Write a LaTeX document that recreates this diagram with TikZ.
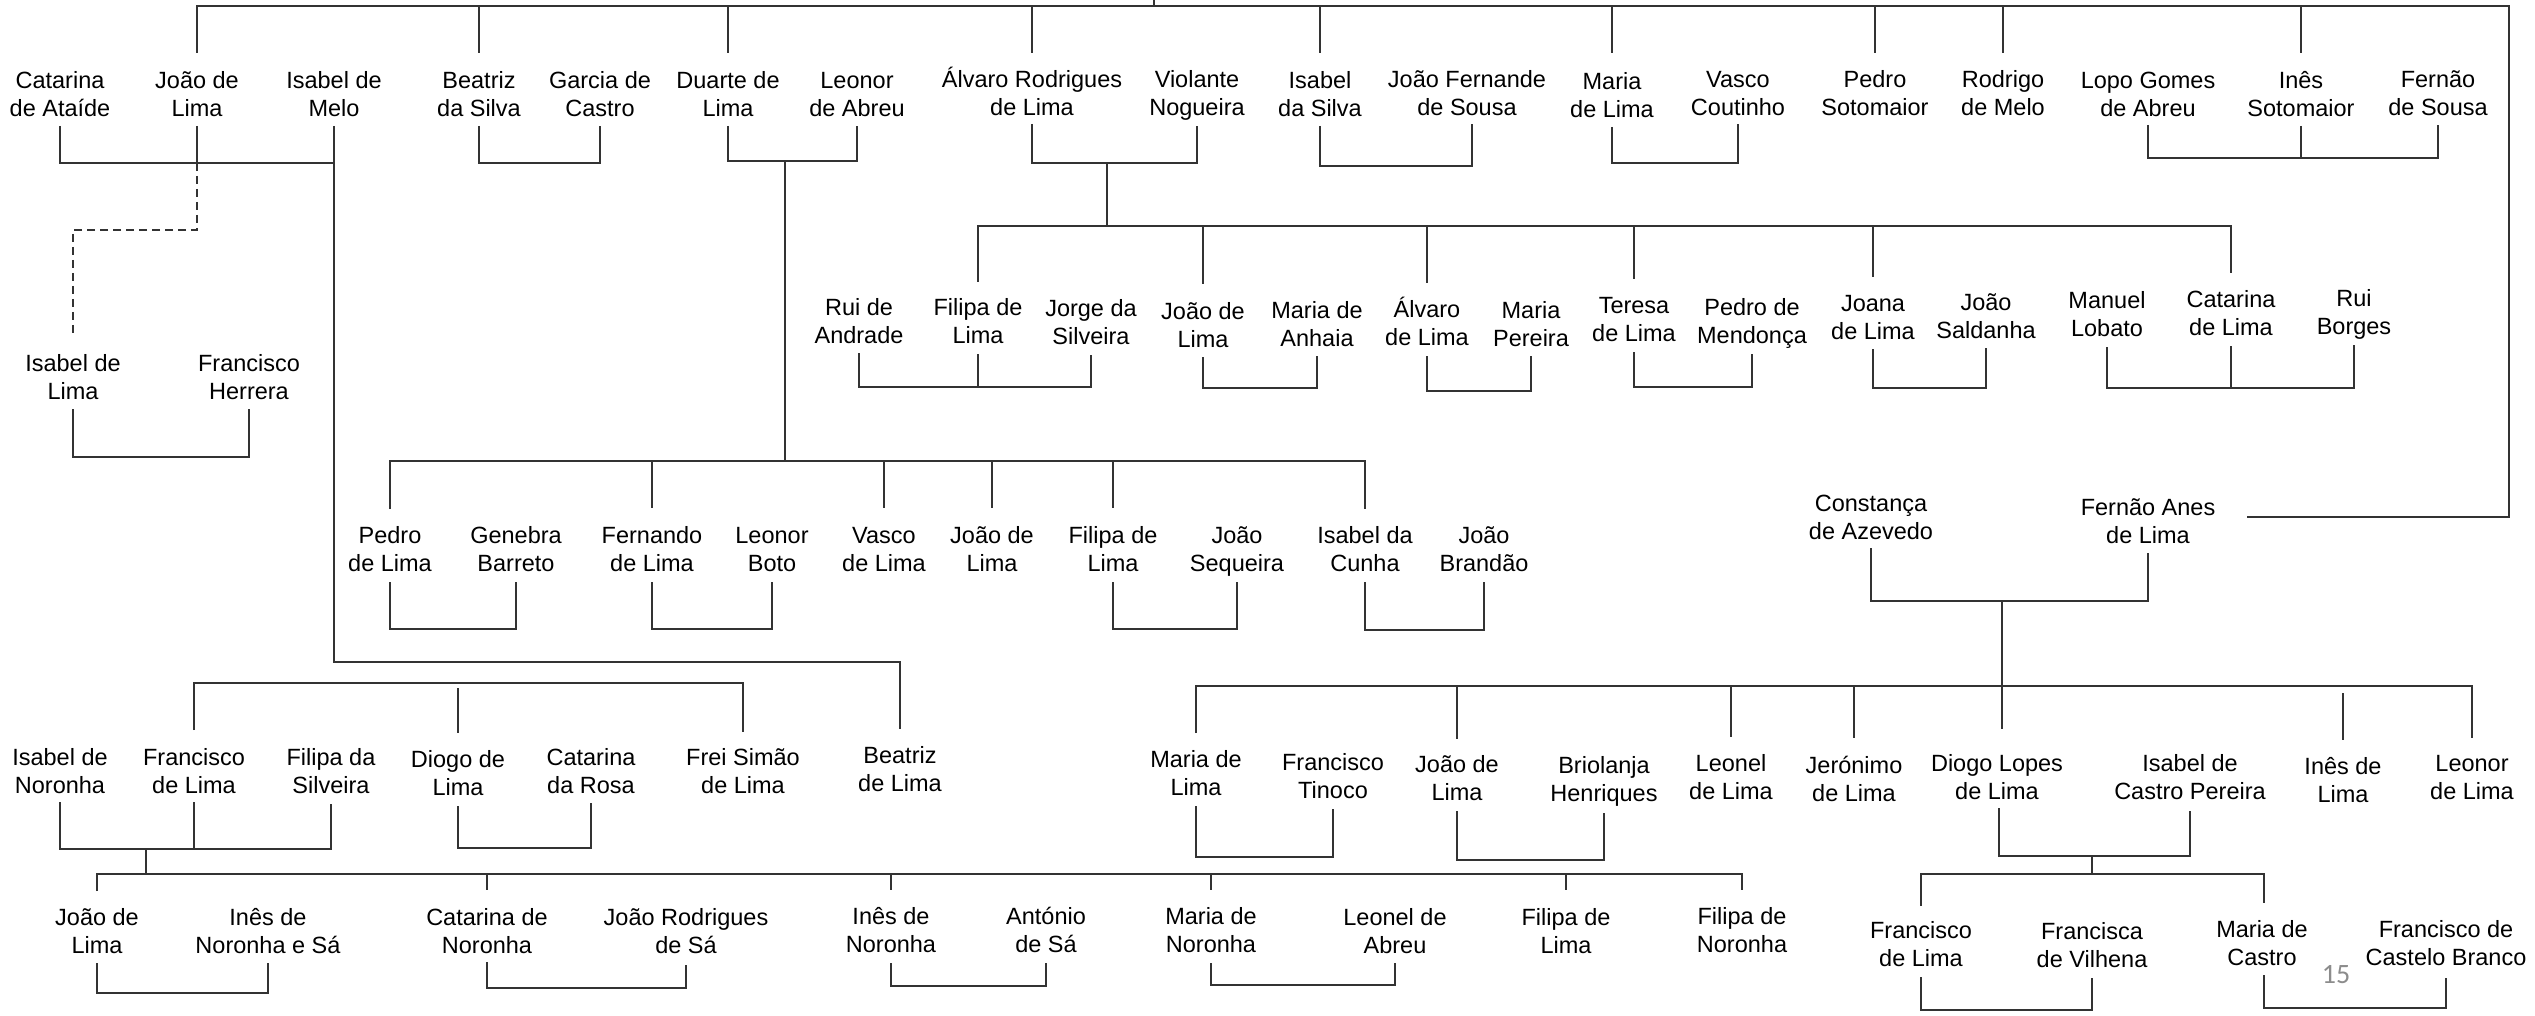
\documentclass[tikz,border=0pt]{standalone}
\usepackage{fontspec}
\setmainfont{Liberation Sans}
\newfontfamily\pgnumfont{Carlito}
\newcommand\pstr{\rule[-7pt]{0pt}{28pt}}
\newcommand\nm[2]{\pstr #1\\\pstr #2}
\definecolor{pgnumgray}{RGB}{140,140,140}
\begin{document}
\begin{tikzpicture}[x=1pt,y=-1pt,
  person/.style={align=center,inner sep=0pt,yshift=-1.5pt,font=\fontsize{23.5pt}{28.5pt}\selectfont},
  conn/.style={draw=black!80,line width=1.5pt},
  dconn/.style={conn,dash pattern=on 8pt off 5pt},
  pagenum/.style={inner sep=0pt,text=pgnumgray,font=\pgnumfont\fontsize{28pt}{32pt}\selectfont}]
\useasboundingbox (0,0) rectangle (2535,1016);
% ---------- row 1
\node[person] (catA) at (60,94) {\nm{Catarina}{de Ataíde}};
\node[person] (joaoL1) at (197,94) {\nm{João de}{Lima}};
\node[person] (isabM) at (334,94) {\nm{Isabel de}{Melo}};
\node[person] (beatS) at (479,94) {\nm{Beatriz}{da Silva}};
\node[person] (garC) at (600,94) {\nm{Garcia de}{Castro}};
\node[person] (duarte) at (728,94) {\nm{Duarte de}{Lima}};
\node[person] (leonA) at (857,94) {\nm{Leonor}{de Abreu}};
\node[person] (alvR) at (1032,93) {\nm{Álvaro Rodrigues}{de Lima}};
\node[person] (violN) at (1197,93) {\nm{Violante}{Nogueira}};
\node[person] (isabS) at (1320,94) {\nm{Isabel}{da Silva}};
\node[person] (joaoFS) at (1467,93) {\nm{João Fernande}{de Sousa}};
\node[person] (mariaL) at (1612,95) {\nm{Maria}{de Lima}};
\node[person] (vascoC) at (1738,93) {\nm{Vasco}{Coutinho}};
\node[person] (pedroS) at (1875,93) {\nm{Pedro}{Sotomaior}};
\node[person] (rodM) at (2003,93) {\nm{Rodrigo}{de Melo}};
\node[person] (lopoG) at (2148,94) {\nm{Lopo Gomes}{de Abreu}};
\node[person] (inesS) at (2301,94) {\nm{Inês}{Sotomaior}};
\node[person] (fernS) at (2438,93) {\nm{Fernão}{de Sousa}};
% ---------- left
\node[person] (isabL) at (73,377) {\nm{Isabel de}{Lima}};
\node[person] (franH) at (249,377) {\nm{Francisco}{Herrera}};
% ---------- row 2
\node[person] (ruiA) at (859,321) {\nm{Rui de}{Andrade}};
\node[person] (filL1) at (978,321) {\nm{Filipa de}{Lima}};
\node[person] (jorgeS) at (1091,322) {\nm{Jorge da}{Silveira}};
\node[person] (joaoL2) at (1203,325) {\nm{João de}{Lima}};
\node[person] (mariaA) at (1317,324) {\nm{Maria de}{Anhaia}};
\node[person] (alvL) at (1427,323) {\nm{Álvaro}{de Lima}};
\node[person] (mariaP) at (1531,324) {\nm{Maria}{Pereira}};
\node[person] (teresaL) at (1634,319) {\nm{Teresa}{de Lima}};
\node[person] (pedroM) at (1752,321) {\nm{Pedro de}{Mendonça}};
\node[person] (joanaL) at (1873,317) {\nm{Joana}{de Lima}};
\node[person] (joaoSal) at (1986,316) {\nm{João}{Saldanha}};
\node[person] (manuelL) at (2107,314) {\nm{Manuel}{Lobato}};
\node[person] (catL) at (2231,313) {\nm{Catarina}{de Lima}};
\node[person] (ruiB) at (2354,312) {\nm{Rui}{Borges}};
% ---------- row 3
\node[person] (pedroL) at (390,549) {\nm{Pedro}{de Lima}};
\node[person] (genB) at (516,549) {\nm{Genebra}{Barreto}};
\node[person] (fernL) at (652,549) {\nm{Fernando}{de Lima}};
\node[person] (leonB) at (772,549) {\nm{Leonor}{Boto}};
\node[person] (vascoL) at (884,549) {\nm{Vasco}{de Lima}};
\node[person] (joaoL3) at (992,549) {\nm{João de}{Lima}};
\node[person] (filL2) at (1113,549) {\nm{Filipa de}{Lima}};
\node[person] (joaoSeq) at (1237,549) {\nm{João}{Sequeira}};
\node[person] (isabC) at (1365,549) {\nm{Isabel da}{Cunha}};
\node[person] (joaoB) at (1484,549) {\nm{João}{Brandão}};
\node[person] (constA) at (1871,517) {\nm{Constança}{de Azevedo}};
\node[person] (fernAL) at (2148,521) {\nm{Fernão Anes}{de Lima}};
% ---------- row 4
\node[person] (isabN) at (60,771) {\nm{Isabel de}{Noronha}};
\node[person] (franL) at (194,771) {\nm{Francisco}{de Lima}};
\node[person] (filS) at (331,771) {\nm{Filipa da}{Silveira}};
\node[person] (diogoL) at (458,773) {\nm{Diogo de}{Lima}};
\node[person] (catR) at (591,771) {\nm{Catarina}{da Rosa}};
\node[person] (freiS) at (743,771) {\nm{Frei Simão}{de Lima}};
\node[person] (beatL) at (900,769) {\nm{Beatriz}{de Lima}};
\node[person] (mariaL2) at (1196,773) {\nm{Maria de}{Lima}};
\node[person] (franT) at (1333,776) {\nm{Francisco}{Tinoco}};
\node[person] (joaoL4) at (1457,778) {\nm{João de}{Lima}};
\node[person] (briH) at (1604,779) {\nm{Briolanja}{Henriques}};
\node[person] (leonelL) at (1731,777) {\nm{Leonel}{de Lima}};
\node[person] (jeroL) at (1854,779) {\nm{Jerónimo}{de Lima}};
\node[person] (diogoLL) at (1997,777) {\nm{Diogo Lopes}{de Lima}};
\node[person] (isabCP) at (2190,777) {\nm{Isabel de}{Castro Pereira}};
\node[person] (inesL) at (2343,780) {\nm{Inês de}{Lima}};
\node[person] (leonorL) at (2472,777) {\nm{Leonor}{de Lima}};
% ---------- row 5
\node[person] (joaoL5) at (97,931) {\nm{João de}{Lima}};
\node[person] (inesNS) at (268,931) {\nm{Inês de}{Noronha e Sá}};
\node[person] (catN) at (487,931) {\nm{Catarina de}{Noronha}};
\node[person] (joaoRS) at (686,931) {\nm{João Rodrigues}{de Sá}};
\node[person] (inesN) at (891,930) {\nm{Inês de}{Noronha}};
\node[person] (antS) at (1046,930) {\nm{António}{de Sá}};
\node[person] (mariaN) at (1211,930) {\nm{Maria de}{Noronha}};
\node[person] (leonelA) at (1395,931) {\nm{Leonel de}{Abreu}};
\node[person] (filL3) at (1566,931) {\nm{Filipa de}{Lima}};
\node[person] (filN) at (1742,930) {\nm{Filipa de}{Noronha}};
\node[person] (franL2) at (1921,944) {\nm{Francisco}{de Lima}};
\node[person] (franV) at (2092,945) {\nm{Francisca}{de Vilhena}};
\node[person] (mariaC) at (2262,943) {\nm{Maria de}{Castro}};
\node[person] (franCB) at (2446,943) {\nm{Francisco de}{Castelo Branco}};
\node[pagenum] (pg) at (2336,975) {15};
% ---------- connectors: top
\coordinate (topR) at (2509,6);
\coordinate (faEnd) at (2247,517);
\coordinate (topIn) at (1154,0);
\draw[conn] (joaoL1 |- 0,53) -- (joaoL1 |- 0,6) -- (topR) -- (topR |- faEnd) -- (faEnd);
\draw[conn] (topIn) -- (1154,6);
\foreach \n in {beatS,duarte,alvR,isabS,mariaL,pedroS,rodM,inesS} \draw[conn] (\n |- 0,6) -- (\n |- 0,53);
% row 1 couples
\draw[conn] (catA |- 0,126) -- (catA |- 0,163) -- (isabM |- 0,163);
\draw[conn] (joaoL1 |- 0,126) -- (joaoL1 |- 0,163);
\draw[dconn] (joaoL1 |- 0,163) -- (joaoL1 |- 0,230) -- (isabL |- 0,230) -- (isabL |- 0,333);
\draw[conn] (isabM |- 0,126) -- (isabM |- 0,662) -- (beatL |- 0,662) -- (beatL |- 0,729);
\draw[conn] (beatS |- 0,126) -- (beatS |- 0,163) -- (garC |- 0,163) -- (garC |- 0,126);
\draw[conn] (duarte |- 0,126) -- (duarte |- 0,161) -- (leonA |- 0,161) -- (leonA |- 0,126);
\draw[conn] (785,161) -- (785,461);
\draw[conn] (alvR |- 0,124) -- (alvR |- 0,163) -- (violN |- 0,163) -- (violN |- 0,126);
\draw[conn] (1107,163) -- (1107,226);
\draw[conn] (isabS |- 0,126) -- (isabS |- 0,166) -- (1472,166) -- (1472,124);
\draw[conn] (mariaL |- 0,127) -- (mariaL |- 0,163) -- (vascoC |- 0,163) -- (vascoC |- 0,124);
\draw[conn] (lopoG |- 0,125) -- (lopoG |- 0,158) -- (fernS |- 0,158) -- (fernS |- 0,125);
\draw[conn] (inesS |- 0,126) -- (inesS |- 0,158);
% Isabel de Lima couple
\draw[conn] (isabL |- 0,409) -- (isabL |- 0,457) -- (franH |- 0,457) -- (franH |- 0,409);
% Alvaro's children
\draw[conn] (filL1 |- 0,282) -- (filL1 |- 0,226) -- (catL |- 0,226) -- (catL |- 0,273);
\foreach \n/\b in {joaoL2/284,alvL/283,teresaL/279,joanaL/277} \draw[conn] (\n |- 0,226) -- (\n |- 0,\b);
% row 2 couples
\draw[conn] (ruiA |- 0,353) -- (ruiA |- 0,387) -- (jorgeS |- 0,387) -- (jorgeS |- 0,355);
\draw[conn] (filL1 |- 0,354) -- (filL1 |- 0,387);
\draw[conn] (joaoL2 |- 0,357) -- (joaoL2 |- 0,388) -- (mariaA |- 0,388) -- (mariaA |- 0,356);
\draw[conn] (alvL |- 0,356) -- (alvL |- 0,391) -- (mariaP |- 0,391) -- (mariaP |- 0,356);
\draw[conn] (teresaL |- 0,352) -- (teresaL |- 0,387) -- (pedroM |- 0,387) -- (pedroM |- 0,354);
\draw[conn] (joanaL |- 0,349) -- (joanaL |- 0,388) -- (joaoSal |- 0,388) -- (joaoSal |- 0,348);
\draw[conn] (manuelL |- 0,347) -- (manuelL |- 0,388) -- (ruiB |- 0,388) -- (ruiB |- 0,345);
\draw[conn] (catL |- 0,346) -- (catL |- 0,388);
% Duarte's children
\draw[conn] (pedroL |- 0,509) -- (pedroL |- 0,461) -- (isabC |- 0,461) -- (isabC |- 0,509);
\foreach \n in {fernL,vascoL,joaoL3,filL2} \draw[conn] (\n |- 0,461) -- (\n |- 0,508);
% row 3 couples
\draw[conn] (pedroL |- 0,582) -- (pedroL |- 0,629) -- (genB |- 0,629) -- (genB |- 0,582);
\draw[conn] (fernL |- 0,582) -- (fernL |- 0,629) -- (leonB |- 0,629) -- (leonB |- 0,582);
\draw[conn] (filL2 |- 0,582) -- (filL2 |- 0,629) -- (joaoSeq |- 0,629) -- (joaoSeq |- 0,582);
\draw[conn] (isabC |- 0,582) -- (isabC |- 0,630) -- (joaoB |- 0,630) -- (joaoB |- 0,582);
% Constanca / Fernao Anes
\draw[conn] (constA |- 0,548) -- (constA |- 0,601) -- (fernAL |- 0,601) -- (fernAL |- 0,553);
\draw[conn] (2002,601) -- (2002,729);
\draw[conn] (mariaL2 |- 0,733) -- (mariaL2 |- 0,686) -- (leonorL |- 0,686) -- (leonorL |- 0,738);
\foreach \n/\b in {joaoL4/739,leonelL/737,jeroL/738} \draw[conn] (\n |- 0,686) -- (\n |- 0,\b);
\draw[conn] (inesL |- 0,693) -- (inesL |- 0,740);
% Isabel de Melo's children
\draw[conn] (franL |- 0,730) -- (franL |- 0,683) -- (freiS |- 0,683) -- (freiS |- 0,732);
\draw[conn] (diogoL |- 0,688) -- (diogoL |- 0,733);
% row 4 couples
\draw[conn] (isabN |- 0,802) -- (isabN |- 0,849) -- (filS |- 0,849) -- (filS |- 0,804);
\draw[conn] (franL |- 0,802) -- (franL |- 0,849);
\draw[conn] (146,849) -- (146,874);
\draw[conn] (joaoL5 |- 0,891) -- (joaoL5 |- 0,874) -- (filN |- 0,874) -- (filN |- 0,890);
\foreach \n in {catN,inesN,mariaN,filL3} \draw[conn] (\n |- 0,874) -- (\n |- 0,890);
\draw[conn] (diogoL |- 0,806) -- (diogoL |- 0,848) -- (catR |- 0,848) -- (catR |- 0,803);
\draw[conn] (mariaL2 |- 0,806) -- (mariaL2 |- 0,857) -- (franT |- 0,857) -- (franT |- 0,809);
\draw[conn] (joaoL4 |- 0,811) -- (joaoL4 |- 0,860) -- (briH |- 0,860) -- (briH |- 0,813);
\draw[conn] (1999,808) -- (1999,856) -- (isabCP |- 0,856) -- (isabCP |- 0,811);
\draw[conn] (2092,856) -- (2092,874);
\draw[conn] (franL2 |- 0,906) -- (franL2 |- 0,874) -- (2264,874) -- (2264,903);
% row 5 couples
\draw[conn] (joaoL5 |- 0,963) -- (joaoL5 |- 0,993) -- (inesNS |- 0,993) -- (inesNS |- 0,963);
\draw[conn] (catN |- 0,962) -- (catN |- 0,988) -- (joaoRS |- 0,988) -- (joaoRS |- 0,965);
\draw[conn] (inesN |- 0,963) -- (inesN |- 0,986) -- (antS |- 0,986) -- (antS |- 0,963);
\draw[conn] (mariaN |- 0,963) -- (mariaN |- 0,985) -- (leonelA |- 0,985) -- (leonelA |- 0,963);
\draw[conn] (franL2 |- 0,977) -- (franL2 |- 0,1010) -- (franV |- 0,1010) -- (franV |- 0,978);
\draw[conn] (2264,975) -- (2264,1008) -- (franCB |- 0,1008) -- (franCB |- 0,978);
\end{tikzpicture}
\end{document}
